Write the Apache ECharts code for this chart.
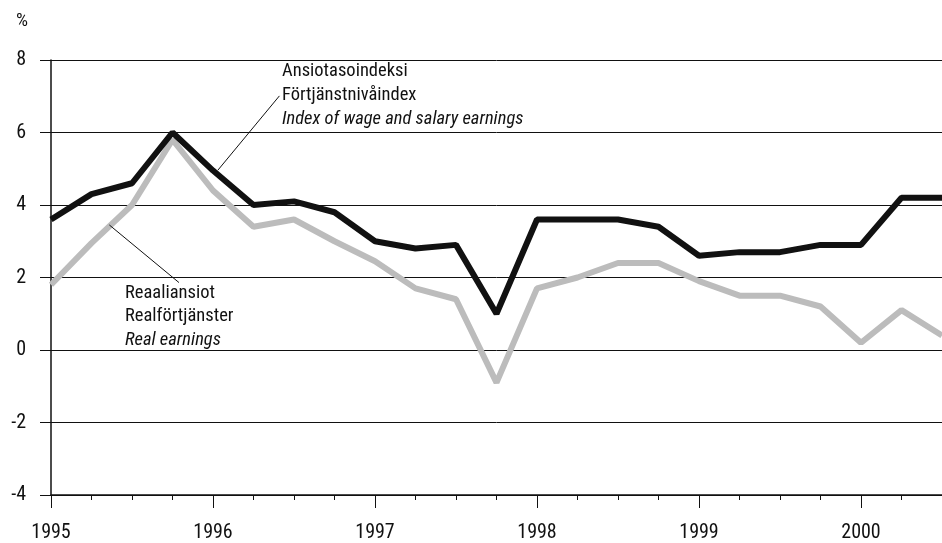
<!DOCTYPE html>
<html>
<head>
<meta charset="utf-8">
<script src="https://cdn.jsdelivr.net/npm/echarts@6/dist/echarts.min.js"></script>
<style>
  html, body { margin: 0; padding: 0; background: #fff; }
  #chart { width: 942px; height: 543px; }
</style>
</head>
<body>
<div id="chart"></div>
<script>
var FONT = "'Roboto Condensed', 'Liberation Sans Narrow', 'Arial Narrow', sans-serif"

// quarters, 1995 Q1 .. 2000 Q3
var quarters = [
    1995.00, 1995.25, 1995.50, 1995.75,
    1996.00, 1996.25, 1996.50, 1996.75,
    1997.00, 1997.25, 1997.50, 1997.75,
    1998.00, 1998.25, 1998.50, 1998.75,
    1999.00, 1999.25, 1999.50, 1999.75,
    2000.00, 2000.25, 2000.50
]
var wageIndex = [
    3.6, 4.3, 4.6, 6.0,
    4.95, 4.0, 4.1, 3.8,
    3.0, 2.8, 2.9, 1.0,
    3.6, 3.6, 3.6, 3.4,
    2.6, 2.7, 2.7, 2.9,
    2.9, 4.2, 4.2
]
var realEarnings = [
    1.8, 2.95, 4.0, 5.8,
    4.4, 3.4, 3.6, 3.0,
    2.45, 1.7, 1.4, -0.9,
    1.7, 2.0, 2.4, 2.4,
    1.9, 1.5, 1.5, 1.2,
    0.2, 1.1, 0.4
]
var yearTicks = [1995, 1996, 1997, 1998, 1999, 2000]

var wageLabel = ["Ansiotasoindeksi", "Förtjänstnivåindex", "Index of wage and salary earnings"]
var realLabel = ["Reaaliansiot", "Realförtjänster", "Real earnings"]

function pairs(xs, ys) {
    return xs.map(function (x, i) { return [x, ys[i]] })
}

var chart = echarts.init(document.getElementById("chart"))

var option = {
    animation: false,
    backgroundColor: "#fff",
    grid: {
        left: 51,
        right: -3,
        top: 60,
        bottom: 44
    },
    xAxis: {
        type: "value",
        min: 1995,
        max: 2000.5,
        interval: 1,
        axisLine: { show: true, onZero: false, lineStyle: { color: "#111", width: 1.5 } },
        axisTick: { show: true, length: 13, lineStyle: { color: "#111", width: 1 } },
        minorTick: { show: true, splitNumber: 4, length: 5, lineStyle: { color: "#111", width: 1 } },
        splitLine: { show: false },
        axisLabel: {
            margin: 28,
            fontFamily: FONT,
            fontSize: 20,
            color: "#111",
            showMaxLabel: false,
            formatter: function (v) {
                return yearTicks.indexOf(v) >= 0 ? String(v) : ""
            }
        }
    },
    yAxis: {
        type: "value",
        min: -4,
        max: 8,
        interval: 2,
        axisLine: { show: true, lineStyle: { color: "#111", width: 1.5 } },
        axisTick: { show: true, length: 11, lineStyle: { color: "#111", width: 1 } },
        splitLine: { show: true, lineStyle: { color: "#111", width: 1 } },
        axisLabel: {
            margin: 25,
            fontFamily: FONT,
            fontSize: 20,
            color: "#111"
        }
    },
    series: [
        {
            name: "Reaaliansiot",
            type: "line",
            data: pairs(quarters, realEarnings),
            symbol: "none",
            z: 3,
            lineStyle: { color: "#bcbcbc", width: 6 }
        },
        {
            name: "Ansiotasoindeksi",
            type: "line",
            data: pairs(quarters, wageIndex),
            symbol: "none",
            z: 4,
            lineStyle: { color: "#111", width: 6 }
        }
    ]
}
chart.setOption(option)

// annotation leader lines, in data coordinates
var wageLeader = [[1996.41, 7.01], [1996.03, 4.96]]
var realLeader = [[1995.36, 3.45], [1995.79, 1.86]]

function px(p) { return chart.convertToPixel({ gridIndex: 0 }, p) }

function textBlock(lines, x, y, gap) {
    return lines.map(function (t, i) {
        return {
            type: "text",
            x: x,
            y: y + i * gap,
            style: {
                text: t,
                fontFamily: FONT,
                fontSize: 18.5,
                fontStyle: i === 2 ? "italic" : "normal",
                fill: "#111",
                textVerticalAlign: "middle"
            },
            z: 10
        }
    })
}

var w0 = px(wageLeader[0]), w1 = px(wageLeader[1])
var r0 = px(realLeader[0]), r1 = px(realLeader[1])

var graphics = [
    {
        type: "text",
        x: 16,
        y: 21,
        style: { text: "%", fontFamily: FONT, fontSize: 19, fill: "#111", textVerticalAlign: "middle" }
    },
    {
        type: "line",
        shape: { x1: w0[0], y1: w0[1], x2: w1[0], y2: w1[1] },
        style: { stroke: "#111", lineWidth: 1 },
        z: 10
    },
    {
        type: "line",
        shape: { x1: r0[0], y1: r0[1], x2: r1[0], y2: r1[1] },
        style: { stroke: "#111", lineWidth: 1 },
        z: 10
    }
]
graphics = graphics.concat(textBlock(wageLabel, 282, 71, 24))
graphics = graphics.concat(textBlock(realLabel, 125, 293, 23.5))

chart.setOption({ graphic: graphics })
</script>
</body>
</html>
